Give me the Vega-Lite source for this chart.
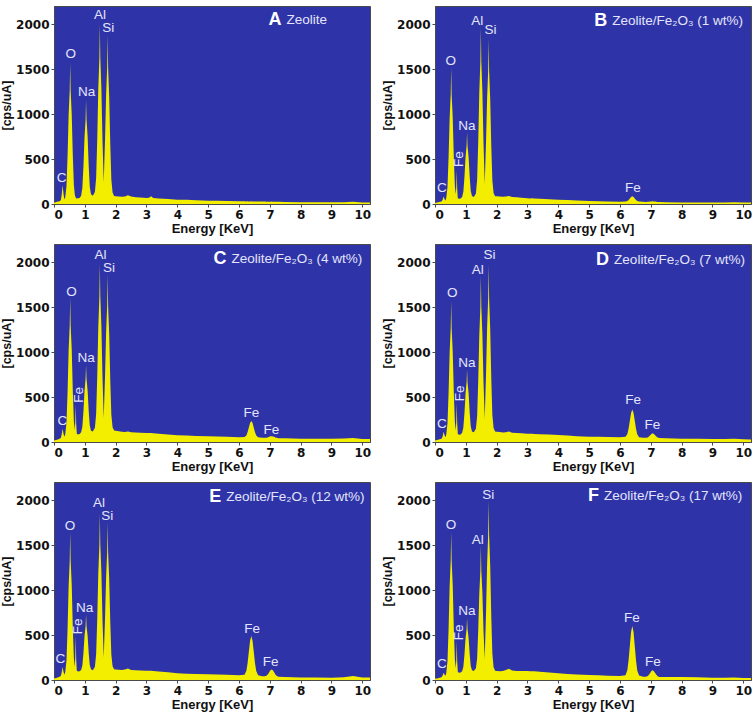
{
"$schema":"https://vega.github.io/schema/vega-lite/v6.json",
"padding":{"left":0,"top":5,"right":2,"bottom":0},
"columns":2,
"spacing":{"row":7,"column":9},
"datasets":{
"spec":[
{"e":0,"A":15,"B":12,"C":18,"D":18,"E":18,"F":14},
{"e":0.1,"A":25,"B":20,"C":25,"D":24,"E":26,"F":20},
{"e":0.18,"A":30,"B":25,"C":35,"D":32,"E":36,"F":28},
{"e":0.22,"A":42,"B":30,"C":45,"D":40,"E":45,"F":34},
{"e":0.25,"A":103,"B":50,"C":84,"D":68,"E":84,"F":52},
{"e":0.28,"A":207,"B":82,"C":146,"D":113,"E":145,"F":80},
{"e":0.31,"A":107,"B":54,"C":89,"D":74,"E":90,"F":58},
{"e":0.34,"A":50,"B":39,"C":58,"D":53,"E":59,"F":47},
{"e":0.365,"A":75,"B":67,"C":86,"D":83,"E":88,"F":79},
{"e":0.405,"A":200,"B":187,"C":213,"D":205,"E":217,"F":209},
{"e":0.44,"A":534,"B":512,"C":554,"D":538,"E":567,"F":562},
{"e":0.475,"A":989,"B":954,"C":1019,"D":991,"E":1043,"F":1041},
{"e":0.51,"A":1263,"B":1219,"C":1298,"D":1264,"E":1329,"F":1328},
{"e":0.525,"A":1567,"B":1514,"C":1606,"D":1566,"E":1646,"F":1647},
{"e":0.54,"A":1264,"B":1220,"C":1299,"D":1266,"E":1332,"F":1330},
{"e":0.575,"A":993,"B":958,"C":1024,"D":997,"E":1053,"F":1047},
{"e":0.61,"A":540,"B":520,"C":565,"D":549,"E":584,"F":573},
{"e":0.645,"A":209,"B":199,"C":228,"D":220,"E":241,"F":227},
{"e":0.675,"A":103,"B":106,"C":132,"D":128,"E":145,"F":130},
{"e":0.69,"A":84,"B":189,"C":220,"D":225,"E":253,"F":222},
{"e":0.705,"A":72,"B":369,"C":412,"D":436,"E":490,"F":430},
{"e":0.72,"A":65,"B":170,"C":202,"D":207,"E":236,"F":205},
{"e":0.74,"A":61,"B":65,"C":91,"D":88,"E":104,"F":88},
{"e":0.78,"A":63,"B":58,"C":84,"D":80,"E":94,"F":80},
{"e":0.83,"A":66,"B":60,"C":88,"D":84,"E":96,"F":83},
{"e":0.88,"A":91,"B":77,"C":107,"D":102,"E":111,"F":98},
{"e":0.92,"A":180,"B":136,"C":170,"D":161,"E":162,"F":148},
{"e":0.955,"A":418,"B":297,"C":338,"D":320,"E":300,"F":280},
{"e":0.99,"A":743,"B":516,"C":567,"D":534,"E":488,"F":461},
{"e":1.025,"A":939,"B":647,"C":705,"D":663,"E":601,"F":568},
{"e":1.04,"A":1155,"B":794,"C":856,"D":806,"E":727,"F":689},
{"e":1.055,"A":941,"B":648,"C":706,"D":665,"E":602,"F":569},
{"e":1.09,"A":749,"B":519,"C":572,"D":539,"E":491,"F":464},
{"e":1.125,"A":428,"B":302,"C":347,"D":328,"E":304,"F":285},
{"e":1.16,"A":193,"B":144,"C":184,"D":173,"E":168,"F":155},
{"e":1.2,"A":109,"B":88,"C":126,"D":117,"E":119,"F":108},
{"e":1.26,"A":92,"B":77,"C":117,"D":107,"E":109,"F":99},
{"e":1.327,"A":134,"B":118,"C":158,"D":147,"E":146,"F":130},
{"e":1.367,"A":288,"B":271,"C":310,"D":287,"E":286,"F":242},
{"e":1.402,"A":708,"B":683,"C":720,"D":669,"E":668,"F":547},
{"e":1.437,"A":1280,"B":1245,"C":1279,"D":1189,"E":1189,"F":963},
{"e":1.472,"A":1624,"B":1583,"C":1617,"D":1503,"E":1503,"F":1214},
{"e":1.487,"A":2000,"B":1957,"C":1982,"D":1850,"E":1850,"F":1491},
{"e":1.502,"A":1625,"B":1584,"C":1619,"D":1505,"E":1505,"F":1216},
{"e":1.537,"A":1285,"B":1250,"C":1286,"D":1196,"E":1196,"F":970},
{"e":1.572,"A":716,"B":691,"C":731,"D":680,"E":679,"F":558},
{"e":1.613,"A":238,"B":221,"C":265,"D":255,"E":247,"F":234},
{"e":1.655,"A":713,"B":688,"C":730,"D":754,"E":683,"F":747},
{"e":1.69,"A":1205,"B":1172,"C":1210,"D":1270,"E":1133,"F":1280},
{"e":1.725,"A":1522,"B":1484,"C":1520,"D":1600,"E":1424,"F":1616},
{"e":1.74,"A":1880,"B":1832,"C":1865,"D":1968,"E":1750,"F":1992},
{"e":1.755,"A":1520,"B":1483,"C":1518,"D":1598,"E":1422,"F":1614},
{"e":1.79,"A":1198,"B":1169,"C":1205,"D":1265,"E":1129,"F":1274},
{"e":1.825,"A":664,"B":646,"C":684,"D":711,"E":641,"F":709},
{"e":1.86,"A":272,"B":263,"C":303,"D":304,"E":284,"F":295},
{"e":1.9,"A":127,"B":123,"C":164,"D":156,"E":153,"F":142},
{"e":1.95,"A":88,"B":86,"C":127,"D":117,"E":119,"F":102},
{"e":2.0,"A":85,"B":85,"C":125,"D":115,"E":118,"F":99},
{"e":2.1,"A":82,"B":83,"C":120,"D":110,"E":115,"F":98},
{"e":2.2,"A":80,"B":80,"C":115,"D":106,"E":112,"F":100},
{"e":2.3,"A":84,"B":82,"C":112,"D":108,"E":116,"F":110},
{"e":2.4,"A":97,"B":90,"C":118,"D":118,"E":129,"F":125},
{"e":2.5,"A":82,"B":78,"C":108,"D":104,"E":112,"F":105},
{"e":2.65,"A":76,"B":74,"C":105,"D":100,"E":108,"F":100},
{"e":2.8,"A":72,"B":69,"C":102,"D":96,"E":106,"F":100},
{"e":3.0,"A":68,"B":63,"C":100,"D":92,"E":103,"F":99},
{"e":3.08,"A":70,"B":62,"C":99,"D":91,"E":102,"F":98},
{"e":3.15,"A":85,"B":64,"C":101,"D":93,"E":103,"F":97},
{"e":3.22,"A":68,"B":61,"C":97,"D":89,"E":100,"F":96},
{"e":3.4,"A":62,"B":58,"C":92,"D":86,"E":95,"F":92},
{"e":3.7,"A":55,"B":53,"C":83,"D":82,"E":85,"F":83},
{"e":4.0,"A":48,"B":48,"C":74,"D":78,"E":74,"F":74},
{"e":4.3,"A":46,"B":44,"C":71,"D":72,"E":70,"F":68},
{"e":4.6,"A":41,"B":38,"C":67,"D":65,"E":67,"F":61},
{"e":5.0,"A":37,"B":33,"C":63,"D":59,"E":63,"F":55},
{"e":5.3,"A":35,"B":31,"C":60,"D":57,"E":60,"F":52},
{"e":5.6,"A":33,"B":29,"C":57,"D":55,"E":57,"F":48},
{"e":6.0,"A":30,"B":26,"C":52,"D":52,"E":52,"F":44},
{"e":6.18,"A":30,"B":27,"C":55,"D":58,"E":59,"F":54},
{"e":6.24,"A":29,"B":33,"C":73,"D":88,"E":102,"F":110},
{"e":6.28,"A":30,"B":45,"C":110,"D":150,"E":190,"F":221},
{"e":6.32,"A":29,"B":61,"C":161,"D":237,"E":313,"F":377},
{"e":6.36,"A":29,"B":78,"C":212,"D":323,"E":435,"F":533},
{"e":6.4,"A":30,"B":85,"C":234,"D":360,"E":488,"F":600},
{"e":6.44,"A":29,"B":78,"C":212,"D":323,"E":435,"F":533},
{"e":6.48,"A":28,"B":61,"C":159,"D":235,"E":311,"F":375},
{"e":6.52,"A":29,"B":45,"C":108,"D":148,"E":187,"F":219},
{"e":6.56,"A":28,"B":33,"C":71,"D":85,"E":99,"F":106},
{"e":6.62,"A":28,"B":27,"C":52,"D":54,"E":54,"F":50},
{"e":6.75,"A":27,"B":24,"C":47,"D":46,"E":42,"F":36},
{"e":6.84,"A":27,"B":23,"C":46,"D":47,"E":42,"F":37},
{"e":6.9,"A":26,"B":24,"C":48,"D":51,"E":49,"F":44},
{"e":6.94,"A":26,"B":26,"C":52,"D":62,"E":65,"F":58},
{"e":6.98,"A":26,"B":27,"C":58,"D":76,"E":87,"F":78},
{"e":7.02,"A":26,"B":29,"C":63,"D":90,"E":109,"F":99},
{"e":7.06,"A":27,"B":30,"C":65,"D":96,"E":118,"F":107},
{"e":7.1,"A":26,"B":29,"C":62,"D":89,"E":108,"F":98},
{"e":7.14,"A":25,"B":27,"C":57,"D":75,"E":85,"F":77},
{"e":7.18,"A":25,"B":25,"C":50,"D":60,"E":62,"F":57},
{"e":7.22,"A":25,"B":22,"C":46,"D":49,"E":46,"F":42},
{"e":7.28,"A":25,"B":21,"C":43,"D":44,"E":37,"F":34},
{"e":7.5,"A":23,"B":20,"C":41,"D":41,"E":33,"F":33},
{"e":8.0,"A":20,"B":18,"C":37,"D":37,"E":29,"F":33},
{"e":8.5,"A":20,"B":18,"C":37,"D":35,"E":27,"F":30},
{"e":9.0,"A":19,"B":18,"C":37,"D":33,"E":26,"F":26},
{"e":9.4,"A":19,"B":17,"C":39,"D":32,"E":30,"F":24},
{"e":9.7,"A":24,"B":20,"C":45,"D":36,"E":44,"F":28},
{"e":10.0,"A":18,"B":18,"C":33,"D":30,"E":29,"F":22},
{"e":10.25,"A":18,"B":18,"C":32,"D":29,"E":28,"F":22}
],
"lab":[
{"p":"A","t":"C","e":0.25,"v":290,"a":0},
{"p":"A","t":"O","e":0.54,"v":1665,"a":0},
{"p":"A","t":"Na","e":1.06,"v":1245,"a":0},
{"p":"A","t":"Al","e":1.49,"v":2100,"a":0},
{"p":"A","t":"Si","e":1.76,"v":1955,"a":0},
{"p":"B","t":"C","e":0.22,"v":177,"a":0},
{"p":"B","t":"O","e":0.51,"v":1594,"a":0},
{"p":"B","t":"Fe","e":0.78,"v":500,"a":270},
{"p":"B","t":"Na","e":1.03,"v":867,"a":0},
{"p":"B","t":"Al","e":1.37,"v":2030,"a":0},
{"p":"B","t":"Si","e":1.8,"v":1937,"a":0},
{"p":"B","t":"Fe","e":6.42,"v":177,"a":0},
{"p":"C","t":"C","e":0.27,"v":236,"a":0},
{"p":"C","t":"O","e":0.57,"v":1668,"a":0},
{"p":"C","t":"Fe","e":0.8,"v":525,"a":270},
{"p":"C","t":"Na","e":1.04,"v":930,"a":0},
{"p":"C","t":"Al","e":1.51,"v":2074,"a":0},
{"p":"C","t":"Si","e":1.78,"v":1934,"a":0},
{"p":"C","t":"Fe","e":6.4,"v":321,"a":0},
{"p":"C","t":"Fe","e":7.05,"v":137,"a":0},
{"p":"D","t":"C","e":0.22,"v":196,"a":0},
{"p":"D","t":"O","e":0.56,"v":1656,"a":0},
{"p":"D","t":"Fe","e":0.8,"v":541,"a":270},
{"p":"D","t":"Na","e":1.03,"v":880,"a":0},
{"p":"D","t":"Al","e":1.39,"v":1908,"a":0},
{"p":"D","t":"Si","e":1.77,"v":2081,"a":0},
{"p":"D","t":"Fe","e":6.43,"v":462,"a":0},
{"p":"D","t":"Fe","e":7.05,"v":185,"a":0},
{"p":"E","t":"C","e":0.21,"v":228,"a":0},
{"p":"E","t":"O","e":0.52,"v":1713,"a":0},
{"p":"E","t":"Fe","e":0.78,"v":595,"a":270},
{"p":"E","t":"Na","e":0.99,"v":803,"a":0},
{"p":"E","t":"Al","e":1.46,"v":1963,"a":0},
{"p":"E","t":"Si","e":1.73,"v":1823,"a":0},
{"p":"E","t":"Fe","e":6.43,"v":571,"a":0},
{"p":"E","t":"Fe","e":7.03,"v":203,"a":0},
{"p":"F","t":"C","e":0.22,"v":173,"a":0},
{"p":"F","t":"O","e":0.52,"v":1724,"a":0},
{"p":"F","t":"Fe","e":0.785,"v":528,"a":270},
{"p":"F","t":"Na","e":1.03,"v":768,"a":0},
{"p":"F","t":"Al","e":1.39,"v":1551,"a":0},
{"p":"F","t":"Si","e":1.73,"v":2059,"a":0},
{"p":"F","t":"Fe","e":6.39,"v":688,"a":0},
{"p":"F","t":"Fe","e":7.07,"v":199,"a":0}
],
"ttl":[
{"p":"A","L":"A","T":"Zeolite","e":7.54,"v":2050},
{"p":"B","L":"B","T":"Zeolite/Fe₂O₃ (1 wt%)","e":5.75,"v":2030},
{"p":"C","L":"C","T":"Zeolite/Fe₂O₃ (4 wt%)","e":5.76,"v":2036},
{"p":"D","L":"D","T":"Zeolite/Fe₂O₃ (7 wt%)","e":5.81,"v":2026},
{"p":"E","L":"E","T":"Zeolite/Fe₂O₃ (12 wt%)","e":5.59,"v":2033},
{"p":"F","L":"F","T":"Zeolite/Fe₂O₃ (17 wt%)","e":5.48,"v":2040}
]
},
"concat":[
{"width":316,"height":198,"layer":[
{"data":{"name":"spec"},"mark":{"type":"area","color":"#f3ee00","interpolate":"linear"},"encoding":{"x":{"field":"e","type":"quantitative","scale":{"domain":[0,10.25],"nice":false,"zero":false},"axis":{"values":[0,1,2,3,4,5,6,7,8,9,10],"tickCount":11,"labelOverlap":false,"title":"Energy [KeV]"}},"y":{"field":"A","type":"quantitative","scale":{"domain":[0,2200],"nice":false},"axis":{"values":[0,500,1000,1500,2000],"format":"d","labelOverlap":false,"title":"[cps/uA]"}}}},
{"data":{"name":"lab"},"transform":[{"filter":"datum.p=='A'"}],"mark":{"type":"text","font":"Liberation Sans","fontSize":13.5,"color":"#e4e4fa"},"encoding":{"x":{"field":"e","type":"quantitative"},"y":{"field":"v","type":"quantitative"},"text":{"field":"t"},"angle":{"field":"a","type":"quantitative","scale":null}}},
{"data":{"name":"ttl"},"transform":[{"filter":"datum.p=='A'"}],"mark":{"type":"text","font":"Liberation Sans","fontSize":18,"fontWeight":"bold","color":"#ffffff","align":"right","dx":-5},"encoding":{"x":{"field":"e","type":"quantitative"},"y":{"field":"v","type":"quantitative"},"text":{"field":"L"}}},
{"data":{"name":"ttl"},"transform":[{"filter":"datum.p=='A'"}],"mark":{"type":"text","font":"Liberation Sans","fontSize":13.5,"color":"#e4e4fa","align":"left"},"encoding":{"x":{"field":"e","type":"quantitative"},"y":{"field":"v","type":"quantitative"},"text":{"field":"T"}}}
]},
{"width":316,"height":198,"layer":[
{"data":{"name":"spec"},"mark":{"type":"area","color":"#f3ee00","interpolate":"linear"},"encoding":{"x":{"field":"e","type":"quantitative","scale":{"domain":[0,10.25],"nice":false,"zero":false},"axis":{"values":[0,1,2,3,4,5,6,7,8,9,10],"tickCount":11,"labelOverlap":false,"title":"Energy [KeV]"}},"y":{"field":"B","type":"quantitative","scale":{"domain":[0,2200],"nice":false},"axis":{"values":[0,500,1000,1500,2000],"format":"d","labelOverlap":false,"title":"[cps/uA]"}}}},
{"data":{"name":"lab"},"transform":[{"filter":"datum.p=='B'"}],"mark":{"type":"text","font":"Liberation Sans","fontSize":13.5,"color":"#e4e4fa"},"encoding":{"x":{"field":"e","type":"quantitative"},"y":{"field":"v","type":"quantitative"},"text":{"field":"t"},"angle":{"field":"a","type":"quantitative","scale":null}}},
{"data":{"name":"ttl"},"transform":[{"filter":"datum.p=='B'"}],"mark":{"type":"text","font":"Liberation Sans","fontSize":18,"fontWeight":"bold","color":"#ffffff","align":"right","dx":-5},"encoding":{"x":{"field":"e","type":"quantitative"},"y":{"field":"v","type":"quantitative"},"text":{"field":"L"}}},
{"data":{"name":"ttl"},"transform":[{"filter":"datum.p=='B'"}],"mark":{"type":"text","font":"Liberation Sans","fontSize":13.5,"color":"#e4e4fa","align":"left"},"encoding":{"x":{"field":"e","type":"quantitative"},"y":{"field":"v","type":"quantitative"},"text":{"field":"T"}}}
]},
{"width":316,"height":198,"layer":[
{"data":{"name":"spec"},"mark":{"type":"area","color":"#f3ee00","interpolate":"linear"},"encoding":{"x":{"field":"e","type":"quantitative","scale":{"domain":[0,10.25],"nice":false,"zero":false},"axis":{"values":[0,1,2,3,4,5,6,7,8,9,10],"tickCount":11,"labelOverlap":false,"title":"Energy [KeV]"}},"y":{"field":"C","type":"quantitative","scale":{"domain":[0,2200],"nice":false},"axis":{"values":[0,500,1000,1500,2000],"format":"d","labelOverlap":false,"title":"[cps/uA]"}}}},
{"data":{"name":"lab"},"transform":[{"filter":"datum.p=='C'"}],"mark":{"type":"text","font":"Liberation Sans","fontSize":13.5,"color":"#e4e4fa"},"encoding":{"x":{"field":"e","type":"quantitative"},"y":{"field":"v","type":"quantitative"},"text":{"field":"t"},"angle":{"field":"a","type":"quantitative","scale":null}}},
{"data":{"name":"ttl"},"transform":[{"filter":"datum.p=='C'"}],"mark":{"type":"text","font":"Liberation Sans","fontSize":18,"fontWeight":"bold","color":"#ffffff","align":"right","dx":-5},"encoding":{"x":{"field":"e","type":"quantitative"},"y":{"field":"v","type":"quantitative"},"text":{"field":"L"}}},
{"data":{"name":"ttl"},"transform":[{"filter":"datum.p=='C'"}],"mark":{"type":"text","font":"Liberation Sans","fontSize":13.5,"color":"#e4e4fa","align":"left"},"encoding":{"x":{"field":"e","type":"quantitative"},"y":{"field":"v","type":"quantitative"},"text":{"field":"T"}}}
]},
{"width":316,"height":198,"layer":[
{"data":{"name":"spec"},"mark":{"type":"area","color":"#f3ee00","interpolate":"linear"},"encoding":{"x":{"field":"e","type":"quantitative","scale":{"domain":[0,10.25],"nice":false,"zero":false},"axis":{"values":[0,1,2,3,4,5,6,7,8,9,10],"tickCount":11,"labelOverlap":false,"title":"Energy [KeV]"}},"y":{"field":"D","type":"quantitative","scale":{"domain":[0,2200],"nice":false},"axis":{"values":[0,500,1000,1500,2000],"format":"d","labelOverlap":false,"title":"[cps/uA]"}}}},
{"data":{"name":"lab"},"transform":[{"filter":"datum.p=='D'"}],"mark":{"type":"text","font":"Liberation Sans","fontSize":13.5,"color":"#e4e4fa"},"encoding":{"x":{"field":"e","type":"quantitative"},"y":{"field":"v","type":"quantitative"},"text":{"field":"t"},"angle":{"field":"a","type":"quantitative","scale":null}}},
{"data":{"name":"ttl"},"transform":[{"filter":"datum.p=='D'"}],"mark":{"type":"text","font":"Liberation Sans","fontSize":18,"fontWeight":"bold","color":"#ffffff","align":"right","dx":-5},"encoding":{"x":{"field":"e","type":"quantitative"},"y":{"field":"v","type":"quantitative"},"text":{"field":"L"}}},
{"data":{"name":"ttl"},"transform":[{"filter":"datum.p=='D'"}],"mark":{"type":"text","font":"Liberation Sans","fontSize":13.5,"color":"#e4e4fa","align":"left"},"encoding":{"x":{"field":"e","type":"quantitative"},"y":{"field":"v","type":"quantitative"},"text":{"field":"T"}}}
]},
{"width":316,"height":198,"layer":[
{"data":{"name":"spec"},"mark":{"type":"area","color":"#f3ee00","interpolate":"linear"},"encoding":{"x":{"field":"e","type":"quantitative","scale":{"domain":[0,10.25],"nice":false,"zero":false},"axis":{"values":[0,1,2,3,4,5,6,7,8,9,10],"tickCount":11,"labelOverlap":false,"title":"Energy [KeV]"}},"y":{"field":"E","type":"quantitative","scale":{"domain":[0,2200],"nice":false},"axis":{"values":[0,500,1000,1500,2000],"format":"d","labelOverlap":false,"title":"[cps/uA]"}}}},
{"data":{"name":"lab"},"transform":[{"filter":"datum.p=='E'"}],"mark":{"type":"text","font":"Liberation Sans","fontSize":13.5,"color":"#e4e4fa"},"encoding":{"x":{"field":"e","type":"quantitative"},"y":{"field":"v","type":"quantitative"},"text":{"field":"t"},"angle":{"field":"a","type":"quantitative","scale":null}}},
{"data":{"name":"ttl"},"transform":[{"filter":"datum.p=='E'"}],"mark":{"type":"text","font":"Liberation Sans","fontSize":18,"fontWeight":"bold","color":"#ffffff","align":"right","dx":-5},"encoding":{"x":{"field":"e","type":"quantitative"},"y":{"field":"v","type":"quantitative"},"text":{"field":"L"}}},
{"data":{"name":"ttl"},"transform":[{"filter":"datum.p=='E'"}],"mark":{"type":"text","font":"Liberation Sans","fontSize":13.5,"color":"#e4e4fa","align":"left"},"encoding":{"x":{"field":"e","type":"quantitative"},"y":{"field":"v","type":"quantitative"},"text":{"field":"T"}}}
]},
{"width":316,"height":198,"layer":[
{"data":{"name":"spec"},"mark":{"type":"area","color":"#f3ee00","interpolate":"linear"},"encoding":{"x":{"field":"e","type":"quantitative","scale":{"domain":[0,10.25],"nice":false,"zero":false},"axis":{"values":[0,1,2,3,4,5,6,7,8,9,10],"tickCount":11,"labelOverlap":false,"title":"Energy [KeV]"}},"y":{"field":"F","type":"quantitative","scale":{"domain":[0,2200],"nice":false},"axis":{"values":[0,500,1000,1500,2000],"format":"d","labelOverlap":false,"title":"[cps/uA]"}}}},
{"data":{"name":"lab"},"transform":[{"filter":"datum.p=='F'"}],"mark":{"type":"text","font":"Liberation Sans","fontSize":13.5,"color":"#e4e4fa"},"encoding":{"x":{"field":"e","type":"quantitative"},"y":{"field":"v","type":"quantitative"},"text":{"field":"t"},"angle":{"field":"a","type":"quantitative","scale":null}}},
{"data":{"name":"ttl"},"transform":[{"filter":"datum.p=='F'"}],"mark":{"type":"text","font":"Liberation Sans","fontSize":18,"fontWeight":"bold","color":"#ffffff","align":"right","dx":-5},"encoding":{"x":{"field":"e","type":"quantitative"},"y":{"field":"v","type":"quantitative"},"text":{"field":"L"}}},
{"data":{"name":"ttl"},"transform":[{"filter":"datum.p=='F'"}],"mark":{"type":"text","font":"Liberation Sans","fontSize":13.5,"color":"#e4e4fa","align":"left"},"encoding":{"x":{"field":"e","type":"quantitative"},"y":{"field":"v","type":"quantitative"},"text":{"field":"T"}}}
]}
],
"config":{
"background":"#ffffff",
"view":{"fill":"#2e34a8","stroke":"#4a4a4a","strokeWidth":1},
"axis":{"grid":false,"domainColor":"#4a4a4a","tickColor":"#4a4a4a","tickSize":3,"labelFont":"DejaVu Sans","labelFontWeight":"bold","labelFontSize":12,"labelColor":"#111111","titleFont":"Liberation Sans","titleFontWeight":"bold","titleFontSize":13,"titleColor":"#111111","labelPadding":2},
"axisX":{"titlePadding":2},
"axisY":{"titlePadding":2,"titleFontSize":12.5}
}
}
